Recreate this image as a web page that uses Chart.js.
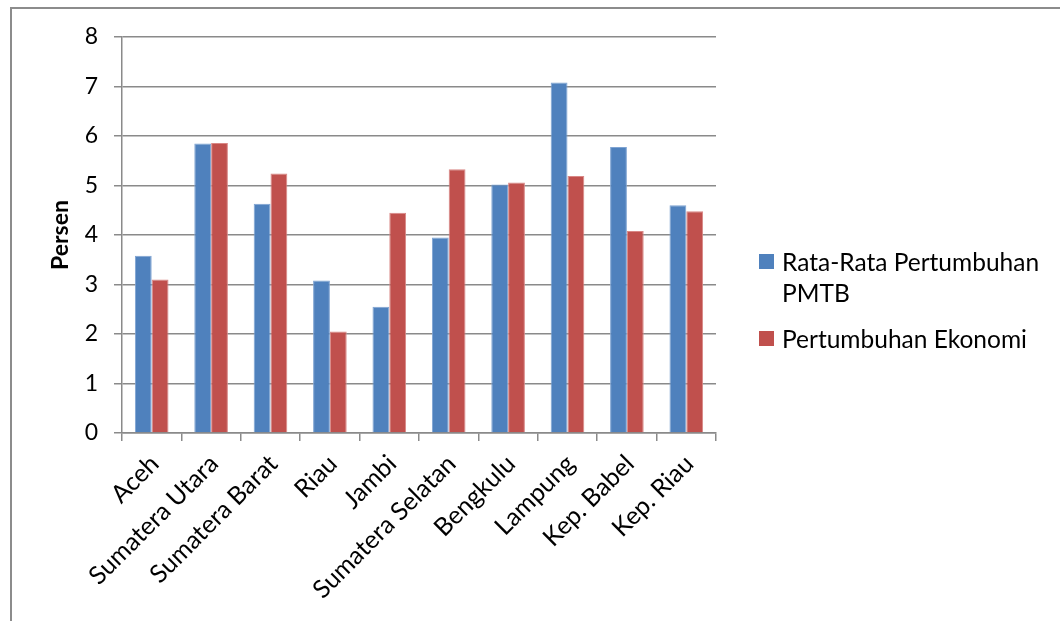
<!DOCTYPE html>
<html>
<head>
<meta charset="utf-8">
<script src="https://cdn.jsdelivr.net/npm/chart.js@4.4.1/dist/chart.umd.min.js"></script>
<style>
  html, body { margin: 0; padding: 0; background: #fff; overflow: hidden; }
  #wrap { position: relative; width: 1060px; height: 621px; overflow: hidden; }
  #frame { position: absolute; left: 10px; top: 7px; width: 2000px; height: 2000px;
           border: 2px solid #8c8c8c; box-sizing: border-box; }
  #chart { position: absolute; left: 0; top: 0; }
  #legend { position: absolute; left: 759px; top: 246px; width: 300px;
            font-family: Lato, "Open Sans", sans-serif; font-size: 24.5px; color: #000; }
  .item { display: flex; align-items: flex-start; margin-bottom: 15px; line-height: 31px; }
  .box { flex: 0 0 15px; width: 15px; height: 15px; margin-top: 8px; margin-right: 8px; }
</style>
</head>
<body>
<div id="wrap">
  <div id="frame"></div>
  <canvas id="chart" width="1060" height="621"></canvas>
  <div id="legend"></div>
</div>
<script>
// Provinsi di Sumatera
const provinces = ['Aceh', 'Sumatera Utara', 'Sumatera Barat', 'Riau', 'Jambi',
  'Sumatera Selatan', 'Bengkulu', 'Lampung', 'Kep. Babel', 'Kep. Riau'];

// Rata-rata pertumbuhan PMTB (persen)
const pmtbGrowth = [3.58, 5.85, 4.63, 3.08, 2.55, 3.95, 5.02, 7.08, 5.78, 4.60];

// Pertumbuhan ekonomi (persen)
const economicGrowth = [3.10, 5.86, 5.24, 2.05, 4.45, 5.33, 5.06, 5.19, 4.08, 4.48];

const seriesNames = [['Rata-Rata Pertumbuhan', 'PMTB'], ['Pertumbuhan Ekonomi']];
const yTicks = [0, 1, 2, 3, 4, 5, 6, 7, 8];
const yAxisTitle = 'Persen';

const FONT = 'Lato, "Open Sans", sans-serif';
const GRID = '#8a8a8a';

Chart.defaults.font.family = FONT;
Chart.defaults.color = '#000';

// Vertical axis title, centred on the y scale
const yTitlePlugin = {
  id: 'yTitle',
  afterDraw(chart) {
    const s = chart.scales.y;
    const ctx = chart.ctx;
    ctx.save();
    ctx.translate(61, (s.top + s.bottom) / 2);
    ctx.rotate(-Math.PI / 2);
    ctx.font = 'bold 23px ' + FONT;
    ctx.fillStyle = '#000';
    ctx.textAlign = 'center';
    ctx.textBaseline = 'middle';
    ctx.fillText(yAxisTitle, 0, 0);
    ctx.restore();
  }
};

const chart = new Chart(document.getElementById('chart'), {
  type: 'bar',
  data: {
    labels: provinces,
    datasets: [
      { label: seriesNames[0].join(' '), data: pmtbGrowth,
        backgroundColor: '#4F81BD', borderColor: '#7ea3d2', borderWidth: 1 },
      { label: seriesNames[1].join(' '), data: economicGrowth,
        backgroundColor: '#C0504D', borderColor: '#d98785', borderWidth: 1 }
    ]
  },
  plugins: [yTitlePlugin],
  options: {
    responsive: false,
    animation: false,
    datasets: { bar: { categoryPercentage: 0.566, barPercentage: 1 } },
    layout: { padding: { left: 0, top: 37, right: 344, bottom: 0 } },
    plugins: { legend: { display: false }, tooltip: { enabled: false } },
    scales: {
      x: {
        offset: true,
        grid: { display: true, drawOnChartArea: false, offset: true, color: GRID,
                lineWidth: 1.5, tickLength: 8 },
        border: { display: true, color: GRID, width: 1.5 },
        ticks: { color: '#000', font: { size: 25 }, labelOffset: 3,
                 minRotation: 45, maxRotation: 45, autoSkip: false, padding: 8 },
        afterFit: (s) => { s.height = 188; }
      },
      y: {
        min: 0, max: 8,
        afterBuildTicks: (s) => { s.ticks = yTicks.map(v => ({ value: v })); },
        grid: { color: GRID, lineWidth: 1.5, tickLength: 8 },
        border: { display: true, color: GRID, width: 1.5 },
        ticks: { color: '#000', font: { size: 23 }, padding: 16 },
        title: { display: false, text: yAxisTitle },
        afterFit: (s) => { s.width = 122; }
      }
    }
  }
});

// Legend built from the dataset colours and names
const legend = document.getElementById('legend');
chart.data.datasets.forEach((ds, i) => {
  const item = document.createElement('div');
  item.className = 'item';
  const box = document.createElement('span');
  box.className = 'box';
  box.style.background = ds.backgroundColor;
  const txt = document.createElement('span');
  txt.innerHTML = seriesNames[i].join('<br>');
  item.appendChild(box);
  item.appendChild(txt);
  legend.appendChild(item);
});
</script>
</body>
</html>
